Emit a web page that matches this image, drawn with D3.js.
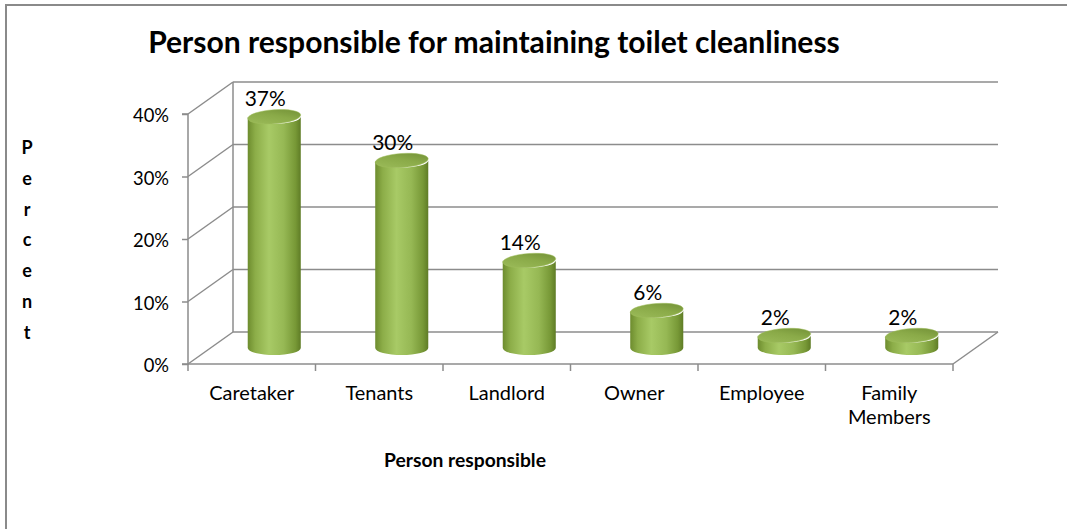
<!DOCTYPE html>
<html>
<head>
<meta charset="utf-8">
<script src="https://cdn.jsdelivr.net/npm/d3@7"></script>
<style>
  html, body { margin: 0; padding: 0; background: #fff; overflow: hidden; }
  svg { display: block; font-family: Lato, "Open Sans", sans-serif; }
</style>
</head>
<body>
<svg id="chart" width="1067" height="529"></svg>
<script>
// Chart data
const categories = ["Caretaker", "Tenants", "Landlord", "Owner", "Employee", "Family Members"];
const shares = [0.37, 0.30, 0.14, 0.06, 0.02, 0.02];
const valueLabels = ["37%", "30%", "14%", "6%", "2%", "2%"];
const tickValues = [0, 0.1, 0.2, 0.3, 0.4];

const svg = d3.select("#chart");
const W = 1067, H = 529;

// Plot geometry (front plane of the 3-D box) and depth offset
const plot = { left: 188, right: 953, bottom: 364, top: 114 };
const depth = { dx: 45, dy: -32 };
const gridColor = "#8c8c8c";

const x = d3.scaleBand().domain(categories).range([plot.left, plot.right]).padding(0);
const y = d3.scaleLinear().domain([0, 0.4]).range([plot.bottom, plot.top]);

// Pick a font size so that a sample string spans the wanted width
function sizeFor(str, weight, width) {
  const probe = svg.append("text").attr("font-size", 100).attr("font-weight", weight).text(str);
  const w = probe.node().getComputedTextLength();
  probe.remove();
  return 100 * width / w;
}
const titleSize = sizeFor("Person responsible for maintaining toilet cleanliness", "bold", 692);
const catSize = sizeFor("Caretaker", "normal", 85);
const tickSize = sizeFor("40%", "normal", 36);
const valueSize = sizeFor("37%", "normal", 41);
const axisTitleSize = sizeFor("Person responsible", "bold", 162);

// Outer chart frame
svg.append("rect")
  .attr("x", 6).attr("y", 5).attr("width", W + 20).attr("height", H + 20)
  .attr("fill", "none").attr("stroke", "#8a8a8a").attr("stroke-width", 2);

// Title
svg.append("text")
  .attr("x", 494).attr("y", 53)
  .attr("text-anchor", "middle")
  .attr("font-weight", "bold").attr("font-size", titleSize)
  .attr("fill", "#000")
  .text("Person responsible for maintaining toilet cleanliness");

const box = svg.append("g");

// Back-wall gridlines and side-wall diagonals
tickValues.forEach(t => {
  const yf = y(t), yb = y(t) + depth.dy;
  box.append("line")
    .attr("x1", plot.left).attr("y1", yf)
    .attr("x2", plot.left + depth.dx).attr("y2", yb)
    .attr("stroke", gridColor).attr("stroke-width", 1.5);
  box.append("line")
    .attr("x1", plot.left + depth.dx).attr("y1", yb)
    .attr("x2", plot.right + depth.dx).attr("y2", yb)
    .attr("stroke", gridColor).attr("stroke-width", 1.5);
});
// back wall left edge
box.append("line")
  .attr("x1", plot.left + depth.dx).attr("y1", y(0) + depth.dy)
  .attr("x2", plot.left + depth.dx).attr("y2", y(0.4) + depth.dy)
  .attr("stroke", gridColor).attr("stroke-width", 1.5);
// floor: front edge, right edge
box.append("line")
  .attr("x1", plot.left).attr("y1", plot.bottom)
  .attr("x2", plot.right).attr("y2", plot.bottom)
  .attr("stroke", gridColor).attr("stroke-width", 1.5);
box.append("line")
  .attr("x1", plot.right).attr("y1", plot.bottom)
  .attr("x2", plot.right + depth.dx).attr("y2", plot.bottom + depth.dy)
  .attr("stroke", gridColor).attr("stroke-width", 1.5);

// Front value axis with ticks and labels
const yAxis = d3.axisLeft(y).tickValues(tickValues).tickSize(6)
  .tickFormat(d3.format(".0%"));
const yAxisG = svg.append("g").attr("transform", `translate(${plot.left},0)`).call(yAxis);
yAxisG.attr("font-family", null).attr("font-size", null);
yAxisG.select(".domain").attr("stroke", gridColor).attr("stroke-width", 1.5)
  .attr("d", `M-6,${plot.top}H0V${plot.bottom}H-6`);
yAxisG.selectAll(".tick line").attr("stroke", gridColor).attr("stroke-width", 1.5);
yAxisG.selectAll(".tick text")
  .attr("font-size", tickSize).attr("fill", "#000")
  .attr("x", -19).attr("dy", "0.42em");

// Category axis ticks at band boundaries
const boundaries = categories.map(c => x(c)).concat([plot.right]);
svg.append("g").selectAll("line").data(boundaries).join("line")
  .attr("x1", d => d).attr("x2", d => d)
  .attr("y1", plot.bottom).attr("y2", plot.bottom + 7)
  .attr("stroke", gridColor).attr("stroke-width", 1.5);

// Category labels (wrapped on spaces)
const catG = svg.append("g");
categories.forEach(c => {
  const words = c.split(" ");
  const cx = x(c) + x.bandwidth() / 2;
  const t = catG.append("text")
    .attr("x", cx)
    .attr("y", 400)
    .attr("text-anchor", "middle")
    .attr("font-size", catSize).attr("fill", "#000");
  words.forEach((w, i) => {
    t.append("tspan").attr("x", cx)
      .attr("dy", i === 0 ? 0 : 24).text(w);
  });
});

// Cylinder gradients
const defs = svg.append("defs");
const bodyGrad = defs.append("linearGradient").attr("id", "cylBody")
  .attr("x1", "0%").attr("x2", "100%").attr("y1", "0%").attr("y2", "0%");
[["0%", "#6d8c2e"], ["14%", "#8cad48"], ["40%", "#a8ca66"], ["68%", "#96b854"], ["90%", "#779836"], ["100%", "#5f7c26"]]
  .forEach(([o, c]) => bodyGrad.append("stop").attr("offset", o).attr("stop-color", c));
const topGrad = defs.append("linearGradient").attr("id", "cylTop")
  .attr("x1", "0%").attr("x2", "100%").attr("y1", "100%").attr("y2", "0%");
[["0%", "#9dbd5b"], ["55%", "#8aaa48"], ["100%", "#6f8d34"]]
  .forEach(([o, c]) => topGrad.append("stop").attr("offset", o).attr("stop-color", c));

// Cylinders sit at mid depth of the box
const rx = x.bandwidth() * 0.208, ry = 7;
const barG = svg.append("g");
categories.forEach((c, i) => {
  const cx = x(c) + x.bandwidth() / 2 + depth.dx / 2;
  const yb = y(0) + depth.dy / 2;
  const yt = y(shares[i]) + depth.dy / 2;
  const g = barG.append("g");
  g.append("path")
    .attr("d", `M${cx - rx},${yt} L${cx - rx},${yb} A${rx},${ry} 0 0 0 ${cx + rx},${yb} L${cx + rx},${yt} A${rx},${ry} 0 0 1 ${cx - rx},${yt} Z`)
    .attr("fill", "url(#cylBody)");
  g.append("ellipse")
    .attr("cx", cx).attr("cy", yt).attr("rx", rx).attr("ry", ry)
    .attr("transform", `rotate(-4 ${cx} ${yt})`)
    .attr("fill", "url(#cylTop)")
    .attr("stroke", "#9fbf5e").attr("stroke-width", 0.8).attr("stroke-opacity", 0.6);
  // value label
  g.append("text")
    .attr("x", cx - 9).attr("y", yt - 11)
    .attr("text-anchor", "middle")
    .attr("font-size", valueSize).attr("fill", "#000")
    .text(valueLabels[i]);
});

// Axis titles
svg.append("text")
  .attr("x", 465).attr("y", 467)
  .attr("text-anchor", "middle")
  .attr("font-weight", "bold").attr("font-size", axisTitleSize).attr("fill", "#000")
  .text("Person responsible");

const vTitle = "Percent".split("");
svg.append("g").selectAll("text").data(vTitle).join("text")
  .attr("x", 27).attr("y", (d, i) => 154 + i * 30.8)
  .attr("text-anchor", "middle")
  .attr("font-weight", "bold").attr("font-size", 18).attr("fill", "#000")
  .text(d => d);
</script>
</body>
</html>
